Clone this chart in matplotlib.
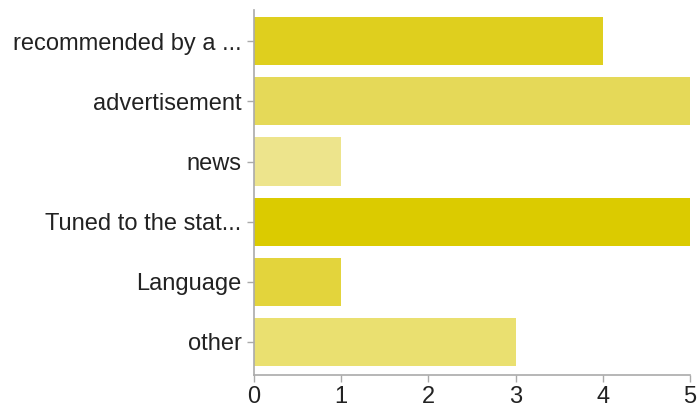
import matplotlib.pyplot as plt

categories = ["recommended by a ...", "advertisement", "news",
              "Tuned to the stat...", "Language", "other"]
counts = [4, 5, 1, 5, 1, 3]
bar_colors = ["#dfcf1e", "#e5d958", "#ede48c", "#dbcb00", "#e3d43c", "#eae070"]

plt.rcParams['font.family'] = ['Liberation Sans', 'DejaVu Sans']

fig = plt.figure(figsize=(6.97, 4.09), dpi=100)
ax = fig.add_axes([254 / 697, 34 / 409, 436 / 697, 365 / 409])

ax.barh(range(len(categories)), counts, height=0.8, color=bar_colors)

ax.set_yticks(range(len(categories)))
ax.set_yticklabels(categories)
ax.set_ylim(5.55, -0.52)
ax.set_xlim(0, 5)
ax.set_xticks(range(6))

for s in ["top", "right"]:
    ax.spines[s].set_visible(False)
for s in ["left", "bottom"]:
    ax.spines[s].set_color("#aaaaaa")
    ax.spines[s].set_linewidth(1.2)

ax.tick_params(axis="both", colors="#aaaaaa", length=5, width=1,
               labelsize=17, labelcolor="#222222")
ax.tick_params(axis="y", pad=4)
ax.tick_params(axis="x", pad=3)

fig.savefig("out.png", dpi=100)
